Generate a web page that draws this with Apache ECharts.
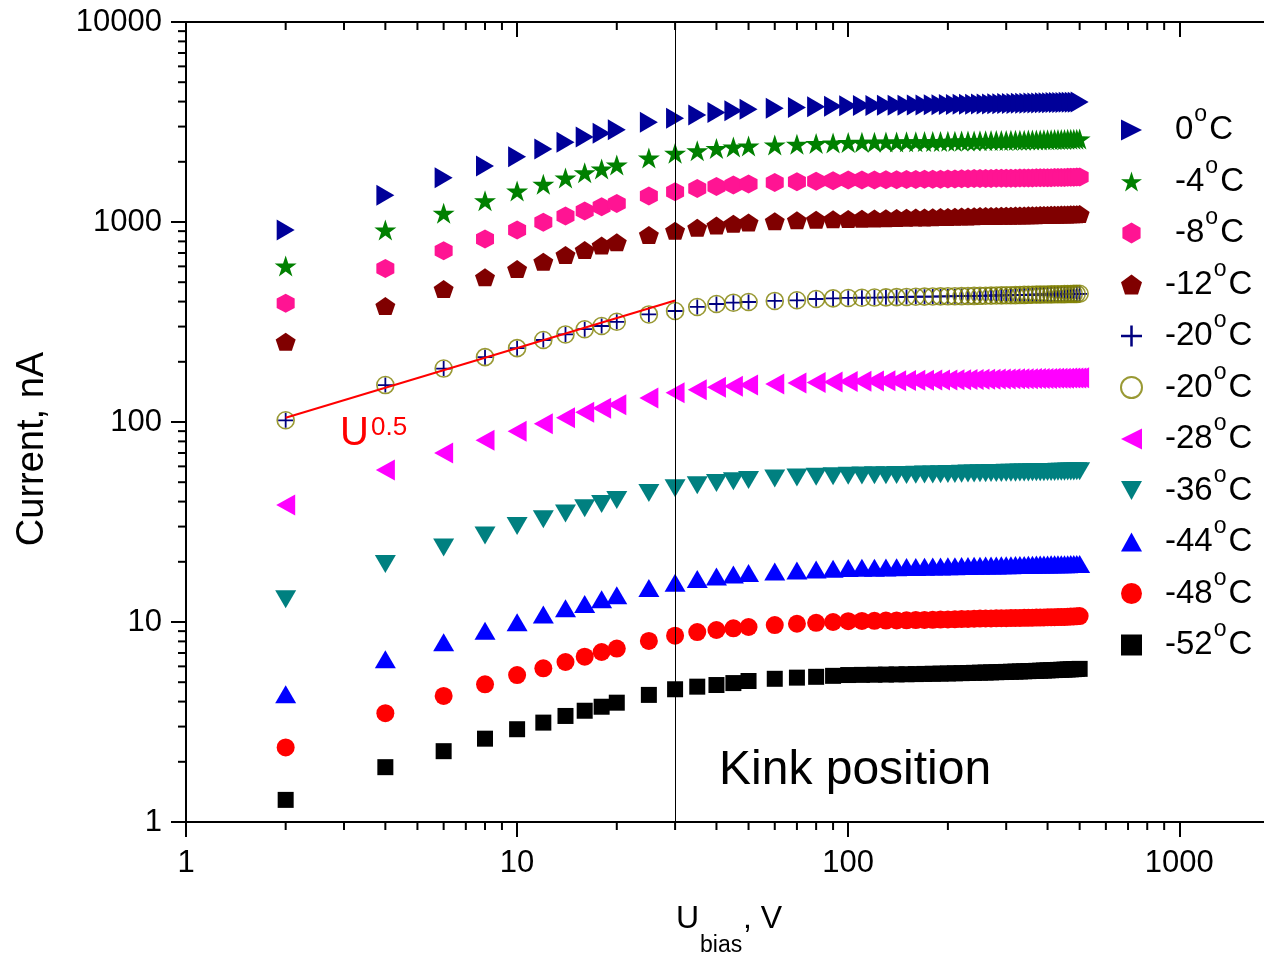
<!DOCTYPE html>
<html>
<head>
<meta charset="utf-8">
<script src="https://cdn.jsdelivr.net/npm/echarts@6/dist/echarts.min.js"></script>
<style>
html,body{margin:0;padding:0;background:#fff;}
#chart{width:1264px;height:954px;}
</style>
</head>
<body>
<div id="chart"></div>
<script>
// ---- data ----
const voltages = [2,4,6,8,10,12,14,16,18,20,25,30,35,40,45,50,60,70,80,90,100,
  110,120,130,140,150,160,170,180,190,200,210,220,230,240,250,260,270,280,290,300,
  310,320,330,340,350,360,370,380,390,400,410,420,430,440,450,460,470,480,490,500];

const t0 = [912,1360,1665,1905,2121,2317,2503,2661,2777,2894,3152,3301,3430,3530,3600,3660,3700,3740,3770,3790,3810,
  3820,3825,3830,3835,3840,3845,3850,3855,3860,3865,3870,3875,3880,3884,3888,3892,3896,3900,3904,3908,
  3912,3916,3920,3924,3928,3932,3936,3940,3944,3948,3951,3954,3957,3960,3963,3966,3969,3972,3975,3980];
const tm4 = [603,912,1105,1278,1429,1543,1660,1765,1841,1928,2090,2205,2270,2330,2370,2400,2430,2450,2470,2485,2500,
  2505,2508,2511,2514,2517,2520,2523,2526,2529,2532,2535,2538,2541,2544,2547,2550,2552,2554,2556,2558,
  2560,2562,2564,2566,2568,2570,2572,2574,2576,2578,2580,2582,2584,2586,2588,2590,2592,2594,2596,2600];
const tm8 = [392,586,719,822,912,996,1072,1135,1193,1239,1349,1418,1470,1505,1530,1550,1575,1590,1600,1610,1620,
  1622,1624,1626,1628,1630,1632,1634,1636,1638,1640,1642,1644,1646,1648,1650,1651,1652,1653,1654,1655,
  1656,1657,1658,1659,1660,1661,1662,1663,1664,1665,1666,1667,1668,1669,1670,1672,1674,1676,1678,1680];
const tm12 = [252,380,462,529,582,633,684,724,762,791,861,905,935,960,980,995,1010,1020,1027,1032,1036,
  1039,1042,1045,1048,1050,1052,1054,1056,1058,1060,1062,1064,1066,1068,1070,1071,1072,1073,1074,1075,
  1076,1077,1078,1079,1080,1081,1082,1083,1084,1085,1086,1087,1088,1089,1090,1091,1092,1093,1094,1096];
const tm20plus = [102,153,185,211,234,257,274,291,302,317,345,359,376,389,395,398,403,406,412,415,417,
  418,419,420,421,422,423,423.5,424,424.5,425,425.5,426,426.5,427,427.5,428,428.5,429,429.5,430,
  430.5,431,431.5,432,432.5,433,433.3,433.6,434,434.3,434.6,435,435.3,435.6,436,436.3,436.6,437,437.3,437.6];
const tm20circ = [102,153,185,211,234,257,274,291,302,317,345,359,376,389,395,398,403,406,412,415,417,
  418,419,420,421,422,423,423.5,424,424.5,425,425.5,426,426.5,427,427.5,428,428.5,429,429.5,430,
  430.5,431,431.5,432,432.5,433,433.3,433.6,434,434.3,434.6,435,435.3,435.6,436,436.3,436.6,437,437.3,437.6];
const tm28 = [38.5,57.5,70,81,90,98,105,112,117,122,132,140,145,149,151,153,155,156.5,157.5,158.5,159.5,
  160,160.3,160.6,160.9,161.2,161.5,161.8,162,162.2,162.4,162.6,162.8,163,163.2,163.4,163.6,163.8,164,164.1,164.2,
  164.3,164.4,164.5,164.6,164.7,164.8,164.9,165,165.1,165.2,165.3,165.4,165.5,165.6,165.7,165.8,165.9,166,166.1,166.2];
const tm36 = [13.0,19.5,23.6,27.1,30.2,32.6,34.9,37.0,38.9,40.7,44.2,46.6,48.3,49.5,50.5,51.3,52.2,52.8,53.2,53.5,53.8,
  54.0,54.1,54.2,54.3,54.4,54.5,54.6,54.7,54.8,54.9,55.0,55.1,55.2,55.3,55.4,55.5,55.55,55.6,55.65,55.7,
  55.75,55.8,55.85,55.9,55.95,56.0,56.05,56.1,56.15,56.2,56.25,56.3,56.35,56.4,56.45,56.5,56.55,56.6,56.65,56.7];
const tm44 = [4.35,6.51,7.91,9.05,9.96,10.9,11.7,12.3,13.0,13.6,14.8,15.7,16.4,16.9,17.3,17.6,17.9,18.1,18.3,18.45,18.6,
  18.65,18.7,18.75,18.8,18.83,18.86,18.89,18.92,18.95,18.98,19.0,19.03,19.06,19.09,19.12,19.14,19.16,19.18,19.2,19.22,
  19.24,19.26,19.28,19.3,19.32,19.34,19.36,19.38,19.4,19.41,19.42,19.43,19.44,19.45,19.46,19.47,19.48,19.49,19.5,19.52];
const tm48 = [2.36,3.5,4.27,4.88,5.43,5.87,6.31,6.71,7.08,7.36,8.04,8.54,8.9,9.12,9.3,9.44,9.65,9.8,9.9,10.0,10.1,
  10.12,10.14,10.16,10.18,10.2,10.22,10.24,10.26,10.28,10.3,10.32,10.34,10.36,10.38,10.4,10.41,10.42,10.43,10.44,10.45,
  10.46,10.47,10.48,10.49,10.5,10.51,10.52,10.53,10.54,10.55,10.56,10.57,10.58,10.59,10.6,10.62,10.64,10.66,10.68,10.7];
const tm52 = [1.29,1.88,2.26,2.61,2.91,3.14,3.39,3.6,3.77,3.95,4.32,4.61,4.75,4.84,4.95,5.07,5.2,5.27,5.32,5.38,5.43,
  5.44,5.45,5.46,5.47,5.48,5.49,5.5,5.51,5.52,5.53,5.54,5.55,5.56,5.57,5.58,5.59,5.6,5.61,5.62,5.63,
  5.64,5.65,5.66,5.67,5.68,5.69,5.7,5.71,5.72,5.73,5.74,5.75,5.76,5.77,5.78,5.79,5.8,5.81,5.82,5.83];

const fitLine = [[2,105],[30,405]];
const kinkVoltage = 30;

const seriesNames = ['0°C','-4°C','-8°C','-12°C','-20°C','-20°C (2)','-28°C','-36°C','-44°C','-48°C','-52°C'];

const xMinorTicks = [2,3,4,5,6,7,8,9,20,30,40,50,60,70,80,90,200,300,400,500,600,700,800,900];
const yMinorTicks = [2,3,4,5,6,7,8,9,20,30,40,50,60,70,80,90,200,300,400,500,600,700,800,900,2000,3000,4000,5000,6000,7000,8000,9000];

// ---- symbols ----
const SYM = {
  right: 'path://M0,0L10,5L0,10Z',
  left: 'path://M10,0L0,5L10,10Z',
  down: 'path://M0,0L10,0L5,9Z',
  up: 'path://M5,0L10,9L0,9Z',
  star: 'path://M50,0L61.23,34.55L97.55,34.55L68.16,55.9L79.39,90.45L50,69.1L20.61,90.45L31.84,55.9L2.45,34.55L38.77,34.55Z',
  hex: 'path://M50,0L93.3,25L93.3,75L50,100L6.7,75L6.7,25Z',
  pent: 'path://M50,0L97.6,34.5L79.4,90.5L20.6,90.5L2.4,34.5Z',
  plus: 'path://M4.4,0H5.6V4.4H10V5.6H5.6V10H4.4V5.6H0V4.4H4.4Z'
};

function pairs(arr){ return voltages.map((v,i)=>[v, arr[i]]); }

function scat(name, arr, symbol, size, color, extra){
  return Object.assign({
    name: name, type: 'scatter', data: pairs(arr),
    symbol: symbol, symbolSize: size,
    itemStyle: {color: color, opacity: 1},
    emphasis: {disabled: true}
  }, extra || {});
}

function tickSeries(name, data, xIdx, kind){
  return {
    name: name, type: 'custom', xAxisIndex: xIdx, yAxisIndex: 0, clip: false, silent: true, z: 10,
    data: data,
    renderItem: function(params, api){
      let p, shape;
      if (kind === 'bottom') { p = api.coord([api.value(0), 1]); shape = {x1:p[0], y1:p[1], x2:p[0], y2:p[1]+8}; }
      else if (kind === 'top') { p = api.coord([api.value(0), 10000]); shape = {x1:p[0], y1:p[1], x2:p[0], y2:p[1]+8}; }
      else { p = api.coord([1, api.value(1)]); shape = {x1:p[0], y1:p[1], x2:p[0]-8, y2:p[1]}; }
      return {type:'line', shape: shape, style:{stroke:'#000', lineWidth:2}};
    }
  };
}

const chart = echarts.init(document.getElementById('chart'), null, {renderer:'canvas'});

const FONT = 'Liberation Sans, Arial, sans-serif';
const plainNum = function(v){ return String(Math.round(v)); };

const option = {
  animation: false,
  backgroundColor: '#fff',
  textStyle: {fontFamily: FONT},
  grid: {left: 186, top: 22, width: 1093, height: 800, containLabel: false, outerBoundsMode: 'none'},
  xAxis: [{
    type: 'log', logBase: 10, min: 1, max: 2000, position: 'bottom',
    axisLine: {show: true, onZero: false, lineStyle: {color:'#000', width: 2}},
    axisTick: {show: true, inside: false, length: 15, lineStyle: {color:'#000', width: 2}},
    axisLabel: {show: true, color:'#000', fontSize: 31, fontFamily: FONT, margin: 26, showMaxLabel: false, formatter: plainNum},
    splitLine: {show: false}, minorTick: {show: false}
  },{
    type: 'log', logBase: 10, min: 1, max: 2000, position: 'top',
    axisLine: {show: true, onZero: false, lineStyle: {color:'#000', width: 2}},
    axisTick: {show: true, inside: true, length: 15, lineStyle: {color:'#000', width: 2}},
    axisLabel: {show: false},
    splitLine: {show: false}
  }],
  yAxis: [{
    type: 'log', logBase: 10, min: 1, max: 10000,
    axisLine: {show: true, onZero: false, lineStyle: {color:'#000', width: 2}},
    axisTick: {show: true, inside: false, length: 15, lineStyle: {color:'#000', width: 2}},
    axisLabel: {show: true, color:'#000', fontSize: 31, fontFamily: FONT, margin: 24, formatter: plainNum},
    splitLine: {show: false}
  }],
  legend: {
    show: true, orient: 'vertical', left: 1115, top: 98.5,
    itemWidth: 21, itemHeight: 21, itemGap: -1.5,
    data: seriesNames,
    selectedMode: false,
    formatter: function(name){
      const base = name.replace(' (2)','');
      const num = base.replace('°C','');
      const pad = (num.length <= 2) ? 'pa' : 'pb';
      return '{' + pad + '| }{t|' + num + '}{s|o}{t|C}';
    },
    textStyle: {
      color:'#000', fontFamily: FONT,
      rich: {
        pa: {width: 28, fontSize: 33, lineHeight: 36},
        pb: {width: 18, fontSize: 33, lineHeight: 36},
        t: {fontSize: 33, lineHeight: 36, color:'#000', fontFamily: FONT},
        s: {fontSize: 23, lineHeight: 6, padding: [0, 2, 30, 1], color:'#000', fontFamily: FONT}
      }
    }
  },
  series: [
    scat('0°C', t0, SYM.right, [18,21], '#000099'),
    scat('-4°C', tm4, SYM.star, [22,21], '#008000'),
    scat('-8°C', tm8, SYM.hex, [18,19], '#ff1493'),
    scat('-12°C', tm12, SYM.pent, [20,18], '#800000'),
    scat('-20°C', tm20plus, SYM.plus, [15,15], '#000080'),
    scat('-20°C (2)', tm20circ, 'circle', 17, 'rgba(0,0,0,0)', {itemStyle:{color:'rgba(0,0,0,0)', borderColor:'#808000', borderWidth:1.6}}),
    scat('-28°C', tm28, SYM.left, [19,21], '#ff00ff'),
    scat('-36°C', tm36, SYM.down, [21,18], '#008080'),
    scat('-44°C', tm44, SYM.up, [21,18], '#0000ff'),
    scat('-48°C', tm48, 'circle', 18, '#ff0000'),
    scat('-52°C', tm52, 'rect', 16, '#000000'),
    {
      name: 'fit', type: 'line', data: fitLine, showSymbol: false, symbol: 'none',
      lineStyle: {color: '#ff0000', width: 2}, z: 5, silent: true,
      markLine: {
        silent: true, symbol: 'none', animation: false,
        label: {show: false},
        lineStyle: {color:'#000', width: 1, type: 'solid'},
        data: [{xAxis: kinkVoltage}]
      }
    },
    tickSeries('xminorBottom', xMinorTicks.map(v=>[v,1]), 0, 'bottom'),
    tickSeries('xminorTop', xMinorTicks.map(v=>[v,10000]), 1, 'top'),
    tickSeries('yminor', yMinorTicks.map(v=>[1,v]), 0, 'left')
  ],
  graphic: [
    {type:'text', x: 33, y: 449, rotation: Math.PI/2,
     style:{text:'Current, nA', fill:'#000', font: '38px ' + FONT, align:'center', verticalAlign:'middle'}},
    {type:'text', x: 676, y: 919, style:{text:'U', fill:'#000', font: '32px ' + FONT, align:'left', verticalAlign:'middle'}},
    {type:'text', x: 700, y: 946, style:{text:'bias', fill:'#000', font: '23px ' + FONT, align:'left', verticalAlign:'middle'}},
    {type:'text', x: 743, y: 919, style:{text:', V', fill:'#000', font: '32px ' + FONT, align:'left', verticalAlign:'middle'}},
    {type:'text', x: 719, y: 771, style:{text:'Kink position', fill:'#000', font: '48px ' + FONT, align:'left', verticalAlign:'middle'}},
    {type:'text', x: 340, y: 434, style:{text:'U', fill:'#ff0000', font: '40px ' + FONT, align:'left', verticalAlign:'middle'}},
    {type:'text', x: 371, y: 428, style:{text:'0.5', fill:'#ff0000', font: '26px ' + FONT, align:'left', verticalAlign:'middle'}}
  ]
};
chart.setOption(option);
</script>
</body>
</html>
